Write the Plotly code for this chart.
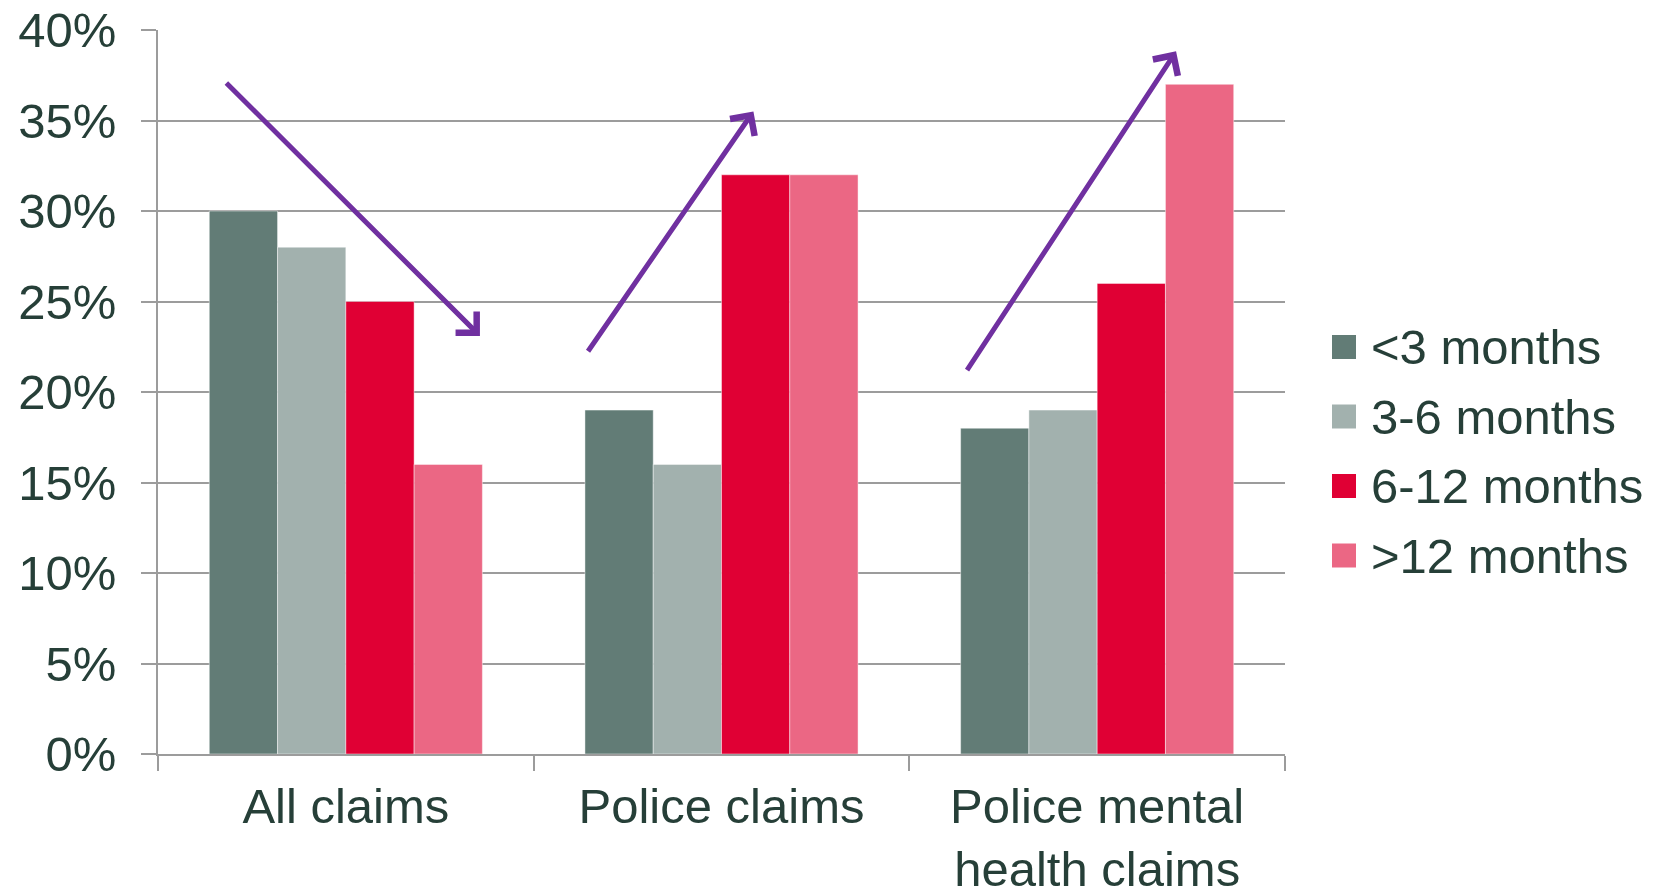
import plotly.graph_objects as go

# ---- data ----
categories = ["All claims", "Police claims", "Police mental<br>health claims"]
series_names = ["<3 months", "3-6 months", "6-12 months", ">12 months"]
lt3_months = [30, 19, 18]
m3_6_months = [28, 16, 19]
m6_12_months = [25, 32, 26]
gt12_months = [16, 32, 37]
series_values = [lt3_months, m3_6_months, m6_12_months, gt12_months]
y_tick_values = [0, 5, 10, 15, 20, 25, 30, 35, 40]
y_tick_labels = ["0%", "5%", "10%", "15%", "20%", "25%", "30%", "35%", "40%"]

# trend arrows (category-index / percent coordinates)
arrow_tail_x = [-0.322, 0.642, 1.651]
arrow_tail_y = [37.16, 22.17, 21.12]
arrow_head_x = [0.357, 1.085, 2.210]
arrow_head_y = [23.10, 35.5, 38.82]

# ---- style ----
colors = ["#627C76", "#A2B1AE", "#E00034", "#EB6784"]
text_color = "#263F38"
grid_color = "#9C9C9C"
arrow_color = "#7030A0"
font_family = "Liberation Sans, Arial, sans-serif"

W, H = 1661, 889
ml, mr, mt, mb = 158, 376, 30, 135
plot_w = W - ml - mr
plot_h = H - mt - mb

fig = go.Figure()
for name, vals, col in zip(series_names, series_values, colors):
    fig.add_trace(go.Bar(
        x=categories, y=vals, name=name,
        marker=dict(color=col, line=dict(color="rgba(255,255,255,0.45)", width=1)),
        showlegend=False,
    ))

annotations = []
for tx, ty, hx, hy in zip(arrow_tail_x, arrow_tail_y, arrow_head_x, arrow_head_y):
    annotations.append(dict(
        x=hx, y=hy, ax=tx, ay=ty, xref="x", yref="y", axref="x", ayref="y",
        text="", showarrow=True, arrowhead=4, arrowsize=1.15, arrowwidth=5,
        arrowcolor=arrow_color, standoff=0, startstandoff=0,
    ))

# custom legend (large square swatches)
legend_left_px = 1332
swatch_px = 24
legend_text_px = 1369
legend_first_center_px = 347
legend_step_px = 69.5
shapes = []
for i, (name, col) in enumerate(zip(series_names, colors)):
    cy = legend_first_center_px + i * legend_step_px
    x0 = (legend_left_px - ml) / plot_w
    x1 = (legend_left_px + swatch_px - ml) / plot_w
    y0 = (H - mb - (cy + swatch_px / 2)) / plot_h
    y1 = (H - mb - (cy - swatch_px / 2)) / plot_h
    shapes.append(dict(type="rect", xref="paper", yref="paper", x0=x0, x1=x1, y0=y0, y1=y1,
                       fillcolor=col, line=dict(width=0)))
    annotations.append(dict(
        x=(legend_text_px - ml) / plot_w, y=(H - mb - cy) / plot_h,
        xref="paper", yref="paper", xanchor="left", yanchor="middle",
        text=name.replace("<", "&lt;").replace(">", "&gt;"), showarrow=False,
        font=dict(size=49, color=text_color, family=font_family),
    ))

fig.update_layout(
    width=W, height=H,
    margin=dict(l=ml, r=mr, t=mt, b=mb, pad=0, autoexpand=False),
    paper_bgcolor="white", plot_bgcolor="white",
    barmode="group", bargap=0.273, bargroupgap=0,
    font=dict(family=font_family, color=text_color),
    annotations=annotations, shapes=shapes,
    showlegend=False,
)
fig.update_yaxes(
    range=[0, 40], tickvals=y_tick_values, ticktext=y_tick_labels,
    showgrid=True, gridcolor=grid_color, gridwidth=1.5,
    showline=True, linecolor=grid_color, linewidth=1.5,
    ticks="outside", ticklen=15, tickcolor=grid_color, tickwidth=1.5,
    tickfont=dict(size=49, color=text_color, family=font_family),
    ticklabelstandoff=15, zeroline=False, automargin=False,
)
fig.update_xaxes(
    range=[-0.5, 2.5], type="category",
    showline=True, linecolor=grid_color, linewidth=1.5,
    ticks="outside", ticklen=15, tickcolor=grid_color, tickwidth=1.5,
    tickson="boundaries", showgrid=False,
    tickfont=dict(size=49, color=text_color, family=font_family),
    ticklabelstandoff=8, automargin=False,
)

fig.write_html("out.html")
